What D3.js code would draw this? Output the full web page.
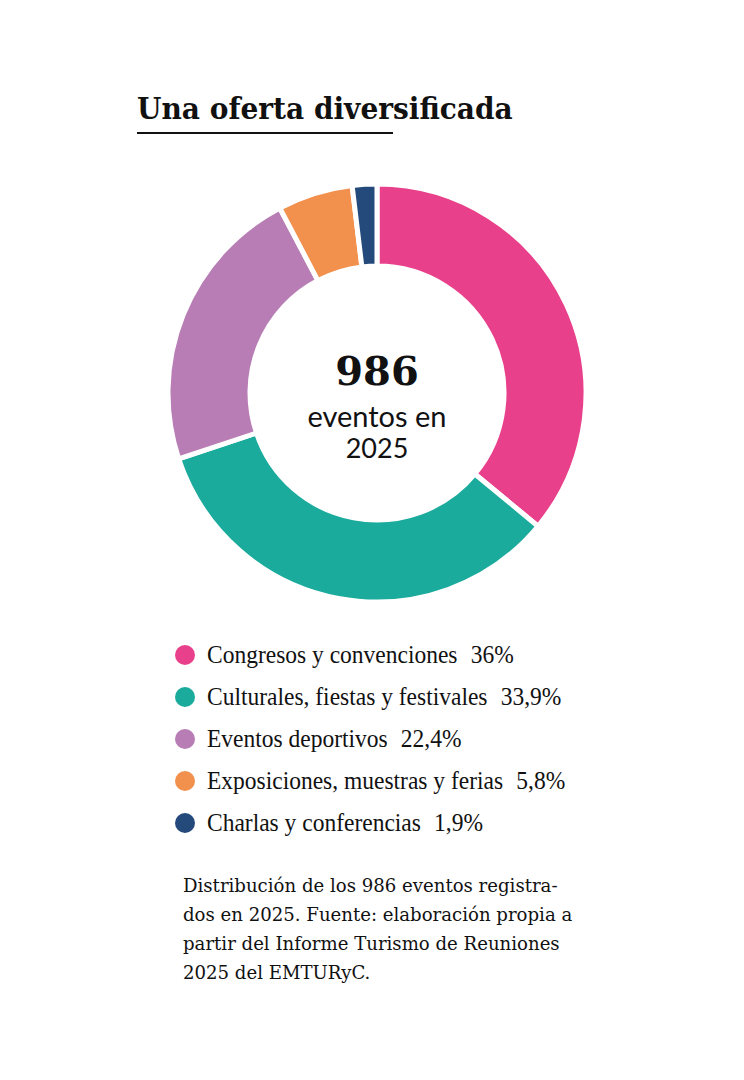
<!DOCTYPE html>
<html><head><meta charset="utf-8">
<script src="https://cdn.jsdelivr.net/npm/d3@7"></script>
<style>html,body{margin:0;padding:0;background:#fff}</style>
</head><body>
<svg id="chart" width="744" height="1080"></svg>
<script>
const title = "Una oferta diversificada";
const categories = ["Congresos y convenciones","Culturales, fiestas y festivales","Eventos deportivos","Exposiciones, muestras y ferias","Charlas y conferencias"];
const values = [36, 33.9, 22.4, 5.8, 1.9];
const valueLabels = ["36%","33,9%","22,4%","5,8%","1,9%"];
const colors = ["#E8408A","#1AAB9C","#B87DB4","#F2904E","#244A7C"];
const centerNumber = "986";
const centerLines = ["eventos en","2025"];
const noteLines = ["Distribución de los 986 eventos registra-","dos en 2025. Fuente: elaboración propia a","partir del Informe Turismo de Reuniones","2025 del EMTURyC."];

const svg = d3.select("#chart");

// Title
const t = svg.append("text").attr("x",137).attr("y",119)
  .attr("font-family","DejaVu Serif").attr("font-weight","bold").attr("font-size",30)
  .attr("fill","#111").text(title);
const tw = t.node().getComputedTextLength();
t.attr("transform",`translate(137,0) scale(${376/tw},1) translate(-137,0)`);
svg.append("rect").attr("x",137).attr("y",132).attr("width",256).attr("height",2).attr("fill","#111");

// Donut
const cx = 377, cy = 393;
const pie = d3.pie().sort(null).value(d=>d);
const arc = d3.arc().innerRadius(127).outerRadius(209);
const g = svg.append("g").attr("transform",`translate(${cx},${cy})`);
g.selectAll("path").data(pie(values)).join("path")
  .attr("d",arc).attr("fill",(d,i)=>colors[i])
  .attr("stroke","#fff").attr("stroke-width",5).attr("stroke-linejoin","miter");

// Center text
g.append("text").attr("text-anchor","middle").attr("y",-8)
  .attr("font-family","DejaVu Serif").attr("font-weight","bold").attr("font-size",40)
  .attr("fill","#111").text(centerNumber);
g.append("text").attr("text-anchor","middle").attr("y",34)
  .attr("font-family","Lato").attr("font-size",29).attr("fill","#111").text(centerLines[0]);
g.append("text").attr("text-anchor","middle").attr("y",65)
  .attr("font-family","Lato").attr("font-size",27).attr("fill","#111").text(centerLines[1]);

// Legend
const ly = d3.scalePoint().domain(d3.range(categories.length)).range([655,823]);
const leg = svg.append("g");
categories.forEach((c,i)=>{
  const y = ly(i);
  leg.append("circle").attr("cx",185).attr("cy",y).attr("r",10).attr("fill",colors[i]);
  const tx = leg.append("text").attr("transform",`translate(207,${y+8}) scale(0.94,1)`)
    .attr("font-family","Liberation Serif").attr("font-size",25).attr("fill","#111");
  tx.append("tspan").text(c);
  tx.append("tspan").attr("dx",14).text(valueLabels[i]);
});

// Note
const notes = svg.append("g");
noteLines.forEach((l,i)=>{
  notes.append("text").attr("x",0).attr("y",i*29)
    .attr("font-family","DejaVu Serif").attr("font-size",18).attr("fill","#111").text(l);
});
const nw = notes.select("text").node().getComputedTextLength();
notes.attr("transform",`translate(183,892) scale(${375/nw},1)`);
</script>
</body></html>
